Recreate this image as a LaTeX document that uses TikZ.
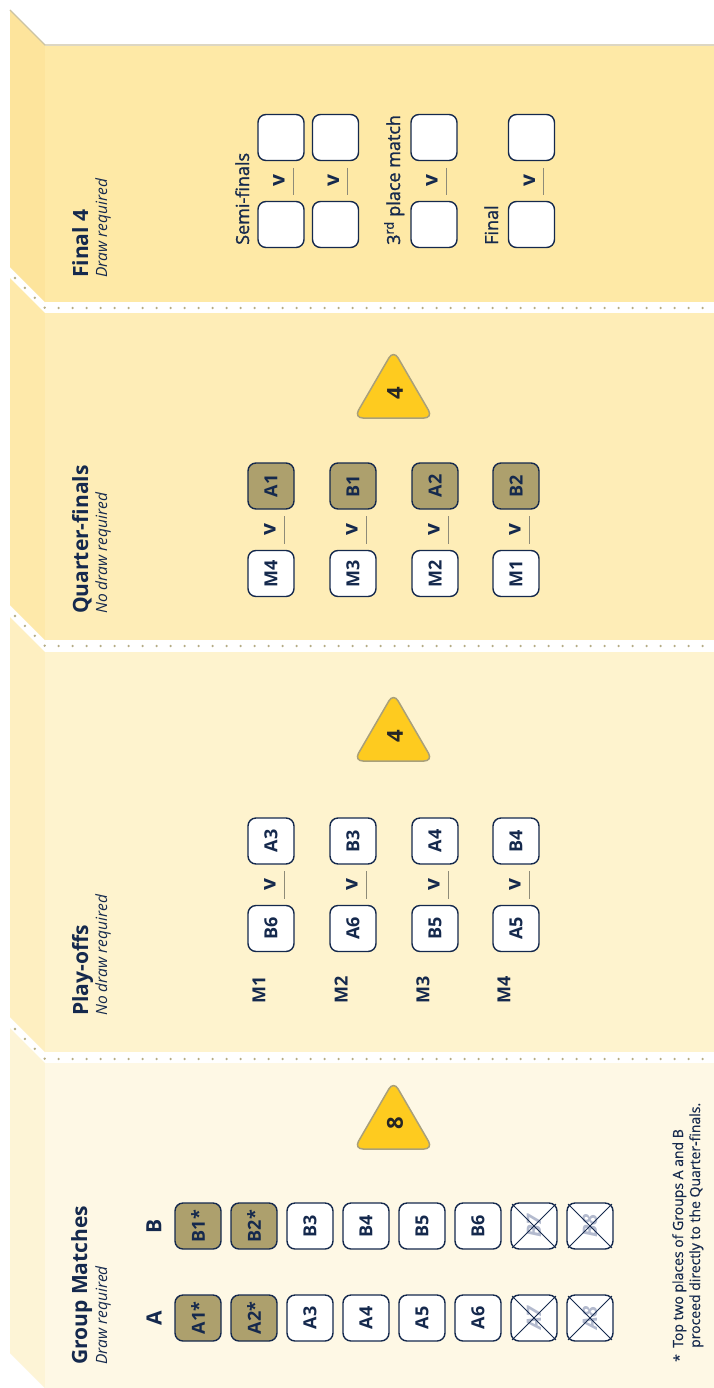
\documentclass[tikz,border=0pt]{standalone}
\usepackage{fontspec}
\setmainfont{Open Sans}
\newfontfamily\semibfont[FakeBold=1.3]{Open Sans}
\newfontfamily\notefont[FakeBold=0.5]{Open Sans}
\usetikzlibrary{calc}
\definecolor{navy}{HTML}{15294D}
\definecolor{olive}{HTML}{ADA06D}
\definecolor{gold}{HTML}{FECB1F}
\definecolor{triedge}{HTML}{A9A07A}
\definecolor{dotc}{HTML}{B5AC85}
\definecolor{mainF}{HTML}{FEE9A6}
\definecolor{stripF}{HTML}{FDE49C}
\definecolor{mainQ}{HTML}{FEEDB7}
\definecolor{stripQ}{HTML}{FEE9AA}
\definecolor{mainP}{HTML}{FEF3CE}
\definecolor{stripP}{HTML}{FEEFC1}
\definecolor{mainG}{HTML}{FEF8E5}
\definecolor{stripG}{HTML}{FDF4D6}
\definecolor{ghost}{HTML}{B3BACE}
\definecolor{vlinec}{HTML}{8E8B78}
\definecolor{rimc}{HTML}{CBC3A3}
\newcommand\myboxfont{\fontsize{18}{21}\selectfont\bfseries}
\begin{document}
\begin{tikzpicture}[x=1pt,y=-1pt,
  box/.style={draw=navy, line width=1.4pt, fill=white, rounded corners=8pt,
    minimum width=46pt, minimum height=46pt, inner sep=0pt, rotate=90,
    text=navy, font=\myboxfont},
  seed/.style={box, fill=olive},
  ghostbox/.style={box, text=ghost, font=\fontsize{20}{23}\selectfont\bfseries\itshape},
  title/.style={rotate=90, anchor=base west, inner sep=0pt, text=navy,
    font=\fontsize{21}{25}\selectfont\bfseries},
  subtitle/.style={rotate=90, anchor=base west, inner sep=0pt, text=navy,
    font=\fontsize{15.5}{18}\selectfont\itshape},
  grp/.style={rotate=90, inner sep=0pt, text=navy, font=\fontsize{21}{24}\selectfont\bfseries},
  vs/.style={rotate=90, inner sep=0pt, text=navy, font=\fontsize{21}{24}\selectfont\bfseries},
  vline/.style={draw=vlinec, line width=1pt},
  rlabel/.style={rotate=90, anchor=base west, inner sep=0pt, text=navy,
    font=\fontsize{18}{21}\selectfont\semibfont},
  mlabel/.style={rotate=90, inner sep=0pt, text=navy, font=\fontsize{18}{21}\selectfont\bfseries},
  tri/.style={fill=gold, draw=triedge, line width=1.5pt, rounded corners=9pt},
  trinum/.style={rotate=90, inner sep=0pt, text=black!85, font=\fontsize{22}{26}\selectfont\bfseries},
  note/.style={rotate=90, anchor=base west, inner sep=0pt, text=navy, font=\fontsize{14}{17}\selectfont\notefont},
  sepdots/.style={draw=dotc, line width=2.6pt, line cap=round, dash pattern=on 0pt off 14pt},
  crossx/.style={draw=navy, line width=1pt, shorten <=2.5pt, shorten >=2.5pt}
]
\useasboundingbox (0,0) rectangle (714,1388);
\fill[white] (0,0) rectangle (714,1388);
% ---------- panels ----------
\fill[stripF] (10,10) -- (45,45) -- (45,302) -- (10,267) -- cycle;
\fill[mainF] (45,46.5) rectangle (714,302);
\draw[rimc, line width=1.2pt] (10,10) -- (45,45) -- (714,45);
\fill[stripQ] (10,278) -- (45,313) -- (45,640) -- (10,605) -- cycle;
\fill[mainQ] (45,313) rectangle (714,640);
\fill[stripP] (10,617) -- (45,652) -- (45,1052) -- (10,1017) -- cycle;
\fill[mainP] (45,652) rectangle (714,1052);
\fill[stripG] (10,1028) -- (45,1063) -- (45,1388) -- (10,1353) -- cycle;
\fill[mainG] (45,1063) rectangle (714,1388);
\draw[sepdots] (15,278) -- (45,308) -- (714,308);
\draw[sepdots] (15,616) -- (45,646) -- (714,646);
\draw[sepdots] (15,1029) -- (45,1059) -- (714,1059);
% ---------- titles ----------
\node[title] (tF) at (88,278) {Final 4};
\node[subtitle] (sF) at (107,278) {Draw required};
\node[title] (tQ) at (88,614) {Quarter-finals};
\node[subtitle] (sQ) at (107,614) {No draw required};
\node[title] (tP) at (88,1016) {Play-offs};
\node[subtitle] (sP) at (107,1016) {No draw required};
\node[title] (tG) at (87,1365) {Group Matches};
\node[subtitle] (sG) at (107,1365) {Draw required};
% ---------- group matches ----------
\node[grp] (lA) at (154,1318) {A};
\node[grp] (lB) at (154,1226) {B};
\node[seed] (gA1) at (198,1318) {A1*};
\node[seed] (gA2) at (254,1318) {A2*};
\node[box] (gA3) at (310,1318) {A3};
\node[box] (gA4) at (366,1318) {A4};
\node[box] (gA5) at (422,1318) {A5};
\node[box] (gA6) at (478,1318) {A6};
\node[ghostbox] (gA7) at (534,1318) {A7};
\node[ghostbox] (gA8) at (590,1318) {A8};
\node[seed] (gB1) at (198,1226) {B1*};
\node[seed] (gB2) at (254,1226) {B2*};
\node[box] (gB3) at (310,1226) {B3};
\node[box] (gB4) at (366,1226) {B4};
\node[box] (gB5) at (422,1226) {B5};
\node[box] (gB6) at (478,1226) {B6};
\node[ghostbox] (gB7) at (534,1226) {B7};
\node[ghostbox] (gB8) at (590,1226) {B8};
\foreach \n in {gA7,gA8,gB7,gB8}{
  \draw[crossx] (\n.north west) -- (\n.south east);
  \draw[crossx] (\n.north east) -- (\n.south west);
}
\node[note] (star) at (684,1362) {*};
\node[note] (fn1) at (683,1348) {Top two places of Groups A and B};
\node[note] (fn2) at (700,1348) {proceed directly to the Quarter-finals.};
% ---------- triangles ----------
\draw[tri] (393.5,350) -- (433,418) -- (354,418) -- cycle;
\node[trinum] (n1) at (395,393) {4};
\draw[tri] (393.5,693) -- (433,761) -- (354,761) -- cycle;
\node[trinum] (n2) at (395,736) {4};
\draw[tri] (393.5,1081) -- (433,1149) -- (354,1149) -- cycle;
\node[trinum] (n3) at (395,1123) {8};
% ---------- play-offs ----------
\foreach \i/\x/\u/\l in {1/271/A3/B6, 2/353/B3/A6, 3/435/A4/B5, 4/516/B4/A5}{
  \node[box] (pU\i) at (\x,841) {\u};
  \node[box] (pL\i) at (\x,928.5) {\l};
  \node[vs] (pv\i) at (\x-1,885) {v};
  \draw[vline] (\x+13,871) -- (\x+13,899);
  \node[mlabel] (pm\i) at (\x-12,990) {M\i};
}
% ---------- quarter-finals ----------
\foreach \i/\x/\u/\l in {1/271/A1/M4, 2/353/B1/M3, 3/435/A2/M2, 4/516/B2/M1}{
  \node[seed] (qU\i) at (\x,486) {\u};
  \node[box] (qL\i) at (\x,573.5) {\l};
  \node[vs] (qv\i) at (\x-1,530) {v};
  \draw[vline] (\x+13,516) -- (\x+13,544);
}
% ---------- final 4 ----------
\foreach \i/\x in {1/281, 2/335.5, 3/434, 4/531.5}{
  \node[box] (fU\i) at (\x,137.5) {};
  \node[box] (fL\i) at (\x,224.5) {};
  \node[vs] (fv\i) at (\x-2,181) {v};
  \draw[vline] (\x+12,168) -- (\x+12,195);
}
\node[rlabel] (lsemi) at (249,245) {Semi-finals};
\node[rlabel] (lthird) at (400,245) {3\textsuperscript{rd} place match};
\node[rlabel] (lfinal) at (498,245) {Final};
\end{tikzpicture}
\end{document}
